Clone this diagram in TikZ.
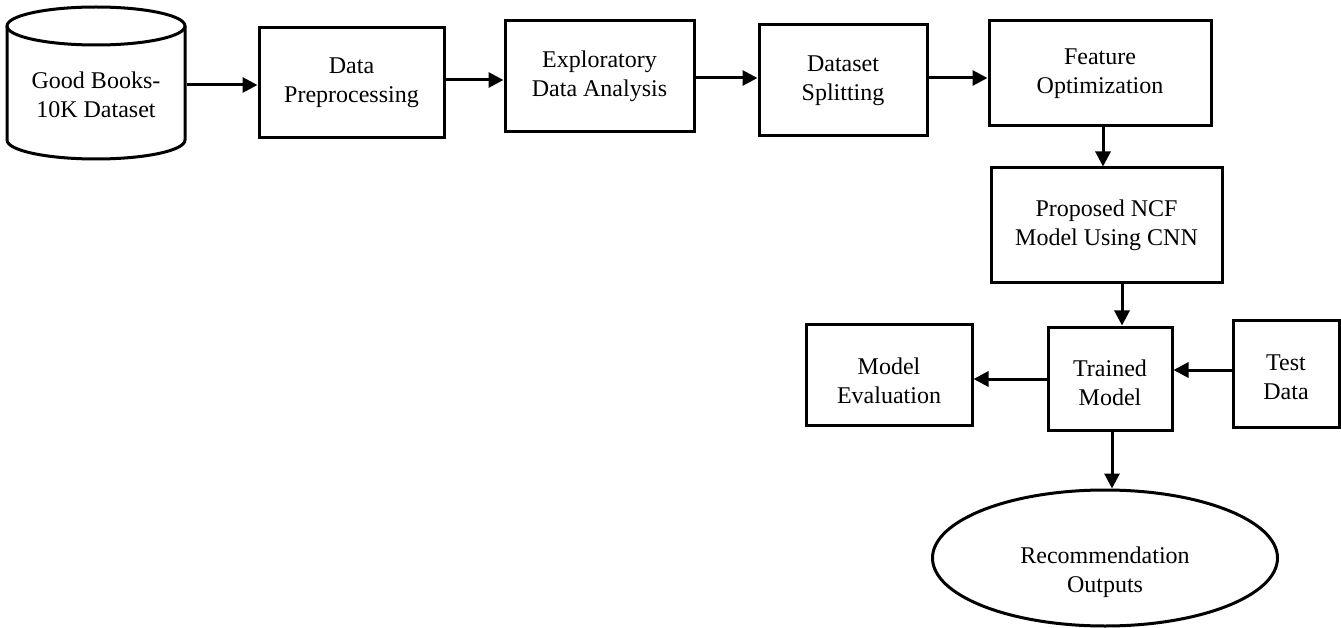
\documentclass[tikz,border=0pt]{standalone}
\usepackage{fontspec}
\setmainfont{Liberation Serif}
\usetikzlibrary{arrows.meta,shapes.geometric}
\begin{document}
\begin{tikzpicture}[x=1pt,y=-1pt,
  lbl/.style={font=\fontsize{24}{29}\selectfont},
  box/.style={draw, line width=3pt, rectangle, inner sep=0pt, align=center, lbl},
  txt/.style={align=center, inner sep=0pt, lbl},
  arr/.style={line width=3pt, -{Triangle[length=15pt,width=15pt]}}]
\useasboundingbox (0,0) rectangle (1341,628);

% cylinder
\node[inner sep=0pt, outer sep=1.5pt, minimum width=178pt, minimum height=151pt] (cyl) at (96,82.5) {};
\draw[line width=3pt] (96,26) ellipse [x radius=89pt, y radius=19pt];
\draw[line width=3pt] (7,26) -- (7,140) arc[start angle=180, end angle=360, x radius=89pt, y radius=19pt] -- (185,26);
\node[txt] (cyltxt) at (96,95) {Good Books-\\10K Dataset};

% boxes
\node[box, minimum width=185pt, minimum height=110pt] (prep) at (351.5,83) {Data\\Preprocessing};
\node[box, minimum width=189pt, minimum height=111pt] (eda) at (599.5,76.5) {Exploratory\\Data Analysis};
\node[box, minimum width=168pt, minimum height=111pt] (split) at (843,80.5) {Dataset\\Splitting};
\node[box, minimum width=222pt, minimum height=105pt] (feat) at (1100,73.5) {Feature\\Optimization};
\node[box, minimum width=231pt, minimum height=115pt] (ncf) at (1106.5,225.5) {Proposed NCF\\Model Using CNN};
\node[box, minimum width=124pt, minimum height=103pt] (trained) at (1110,378.5) {};
\node[txt] (trainedtxt) at (1110,383) {Trained\\Model};
\node[box, minimum width=106pt, minimum height=107pt] (test) at (1286,373.5) {};
\node[txt] (testtxt) at (1286,377) {Test\\Data};
\node[box, minimum width=166pt, minimum height=101pt] (eval) at (889,374.5) {};
\node[txt] (evaltxt) at (889,381) {Model\\Evaluation};
\node[draw, ellipse, line width=3pt, inner sep=0pt, minimum width=345pt, minimum height=136pt] (rec) at (1105,558) {};
\node[txt] (rectxt) at (1105,572) {Recommendation\\Outputs};

% connectors
\draw[arr] (cyl.east |- 0,85) -- (prep.west |- 0,85);
\draw[arr] (prep.east |- 0,80) -- (eda.west |- 0,80);
\draw[arr] (eda.east |- 0,78) -- (split.west |- 0,78);
\draw[arr] (split.east |- 0,78) -- (feat.west |- 0,78);
\draw[arr] (feat.south -| 1103,0) -- (ncf.north -| 1103,0);
\draw[arr] (ncf.south -| 1122,0) -- (trained.north -| 1122,0);
\draw[arr] (test.west |- 0,370) -- (trained.east |- 0,370);
\draw[arr] (trained.west |- 0,379) -- (eval.east |- 0,379);
\draw[arr] (trained.south -| 1112,0) -- (rec.north -| 1112,0);
\end{tikzpicture}
\end{document}
